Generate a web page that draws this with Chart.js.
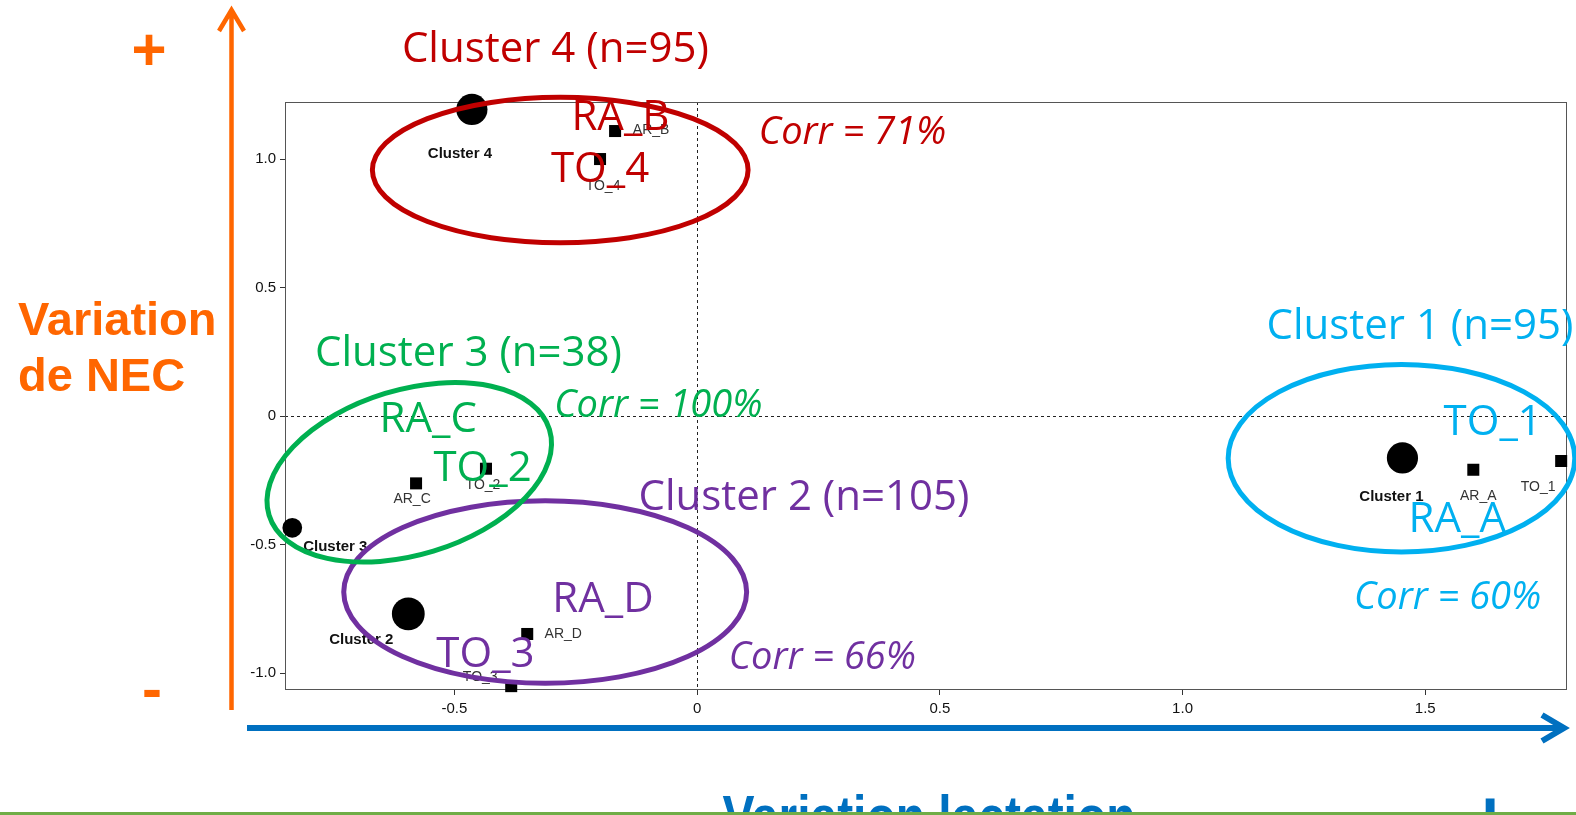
<!DOCTYPE html>
<html>
<head>
<meta charset="utf-8">
<script src="https://cdn.jsdelivr.net/npm/chart.js@4.4.1/dist/chart.umd.min.js"></script>
<style>
  html, body { margin: 0; padding: 0; background: #fff; overflow: hidden; }
  #wrap { position: relative; width: 1576px; height: 815px; }
</style>
</head>
<body>
<div id="wrap"><canvas id="myChart"></canvas></div>
<script>
// --- data ---
const clusterNames = ['Cluster 1', 'Cluster 2', 'Cluster 3', 'Cluster 4'];
const clusterX = [1.453, -0.595, -0.834, -0.464];
const clusterY = [-0.163, -0.770, -0.435, 1.193];
const clusterN = [95, 105, 38, 95];
const clusterCorr = [60, 66, 100, 71];

const variableNames = ['AR_A', 'TO_1', 'AR_D', 'TO_3', 'AR_C', 'TO_2', 'AR_B', 'TO_4'];
const variableX = [1.599, 1.780, -0.350, -0.383, -0.579, -0.435, -0.169, -0.200];
const variableY = [-0.209, -0.175, -0.848, -1.051, -0.262, -0.205, 1.109, 1.000];
const variableCluster = [0, 0, 1, 1, 2, 2, 3, 3];
const variableRenamed = ['RA_A', 'TO_1', 'RA_D', 'TO_3', 'RA_C', 'TO_2', 'RA_B', 'TO_4'];

const xTickValues = [-0.5, 0, 0.5, 1.0, 1.5];
const yTickValues = [-1.0, -0.5, 0, 0.5, 1.0];

// --- layout / style (kept apart from the data) ---
const clusterColors = ['#00B0F0', '#7030A0', '#00B050', '#C00000'];
// small black labels, pixel offset from the mark
const clusterLabelOffset = [[-11, 39], [-47, 26], [43, 19], [-12, 44]];
const variableLabelOffset = [[5, 26], [-23, 26], [36, 0], [-31, -9], [-4, 16], [-3, 16], [36, -1], [3, 27]];
// hand-drawn ellipses, in data units (rot in degrees on screen)
const ellipses = [
  {cx: 1.451, cy: -0.164, rx: 0.357, ry: 0.365, rot: 0},
  {cx: -0.313, cy: -0.685, rx: 0.415, ry: 0.355, rot: 0},
  {cx: -0.593, cy: -0.219, rx: 0.302, ry: 0.321, rot: -17},
  {cx: -0.282, cy: 0.957, rx: 0.387, ry: 0.283, rot: 0}
];
// coloured annotation positions, data units
const titlePos = [[1.489, 0.345], [0.220, -0.318], [-0.471, 0.240], [-0.292, 1.426]];
const corrPos = [[1.546, -0.709], [0.258, -0.943], [-0.080, 0.037], [0.320, 1.099]];
const renamedPos = [[1.566, -0.404], [1.639, -0.029], [-0.194, -0.716], [-0.436, -0.931],
                    [-0.554, -0.017], [-0.442, -0.205], [-0.158, 1.161], [-0.200, 0.958]];

const ANN_FONT = '"Open Sans", "Noto Sans", sans-serif';
const R_FONT = '"Liberation Sans", Arial, sans-serif';

const px = (chart, v) => chart.scales.x.getPixelForValue(v);
const py = (chart, v) => chart.scales.y.getPixelForValue(v);

const frame = {
  id: 'frame',
  beforeDatasetsDraw(chart) {
    const {ctx, chartArea: a} = chart;
    const x0 = Math.round(px(chart, 0)) + 0.5, y0 = Math.round(py(chart, 0)) + 0.5;
    ctx.save();
    ctx.strokeStyle = '#222';
    ctx.lineWidth = 1;
    ctx.setLineDash([3, 3]);
    ctx.beginPath();
    ctx.moveTo(x0, a.top); ctx.lineTo(x0, a.bottom);
    ctx.moveTo(a.left, y0); ctx.lineTo(a.right, y0);
    ctx.stroke();
    ctx.setLineDash([]);
    ctx.strokeStyle = '#555';
    ctx.strokeRect(a.left + 0.5, a.top + 0.5, a.right - a.left - 1, a.bottom - a.top - 1);
    ctx.restore();
  }
};

const annotations = {
  id: 'annotations',
  afterDatasetsDraw(chart) {
    const ctx = chart.ctx;
    ctx.save();
    ctx.textAlign = 'center';
    ctx.textBaseline = 'middle';
    // small labels next to the marks
    ctx.fillStyle = '#111';
    ctx.font = 'bold 15px ' + R_FONT;
    chart.getDatasetMeta(0).data.forEach((pt, i) => {
      ctx.fillText(clusterNames[i], pt.x + clusterLabelOffset[i][0], pt.y + clusterLabelOffset[i][1]);
    });
    ctx.fillStyle = '#333';
    ctx.font = '14px ' + R_FONT;
    chart.getDatasetMeta(1).data.forEach((pt, i) => {
      ctx.fillText(variableNames[i], pt.x + variableLabelOffset[i][0], pt.y + variableLabelOffset[i][1]);
    });
    // ellipses
    ctx.lineWidth = 5;
    ellipses.forEach((e, i) => {
      const cx = px(chart, e.cx), cy = py(chart, e.cy);
      const rx = Math.abs(px(chart, e.cx + e.rx) - cx);
      const ry = Math.abs(py(chart, e.cy + e.ry) - cy);
      ctx.strokeStyle = clusterColors[i];
      ctx.beginPath();
      ctx.ellipse(cx, cy, rx, ry, e.rot * Math.PI / 180, 0, 2 * Math.PI);
      ctx.stroke();
    });
    // coloured texts
    clusterNames.forEach((name, i) => {
      ctx.fillStyle = clusterColors[i];
      ctx.font = '42px ' + ANN_FONT;
      ctx.fillText(name + ' (n=' + clusterN[i] + ')', px(chart, titlePos[i][0]), py(chart, titlePos[i][1]));
      ctx.font = 'italic 38px ' + ANN_FONT;
      ctx.fillText('Corr = ' + clusterCorr[i] + '%', px(chart, corrPos[i][0]), py(chart, corrPos[i][1]));
    });
    ctx.font = '42px ' + ANN_FONT;
    variableRenamed.forEach((name, i) => {
      ctx.fillStyle = clusterColors[variableCluster[i]];
      ctx.fillText(name, px(chart, renamedPos[i][0]), py(chart, renamedPos[i][1]));
    });
    ctx.restore();
  }
};

const slide = {
  id: 'slide',
  beforeDraw(chart) {
    const ctx = chart.ctx;
    ctx.save();
    ctx.fillStyle = '#fff';
    ctx.fillRect(0, 0, chart.width, chart.height);
    ctx.restore();
  },
  afterDraw(chart) {
    const ctx = chart.ctx;
    ctx.save();
    // orange vertical arrow
    ctx.strokeStyle = '#FF6600';
    ctx.lineWidth = 4.5;
    ctx.beginPath();
    ctx.moveTo(231.5, 12); ctx.lineTo(231.5, 710);
    ctx.moveTo(219, 31); ctx.lineTo(231.5, 10); ctx.lineTo(244, 31);
    ctx.stroke();
    // blue horizontal arrow
    ctx.strokeStyle = '#0070C0';
    ctx.lineWidth = 6;
    ctx.beginPath();
    ctx.moveTo(247, 728); ctx.lineTo(1562, 728);
    ctx.moveTo(1542, 715); ctx.lineTo(1564, 728); ctx.lineTo(1542, 741);
    ctx.stroke();
    // orange axis title
    ctx.fillStyle = '#FF6600';
    ctx.font = 'bold 47px ' + R_FONT;
    ctx.textAlign = 'left';
    ctx.textBaseline = 'alphabetic';
    ctx.fillText('Variation', 18, 335);
    ctx.fillText('de NEC', 18, 391);
    ctx.textAlign = 'center';
    ctx.textBaseline = 'middle';
    ctx.font = 'bold 60px ' + R_FONT;
    ctx.fillText('+', 149, 53);
    ctx.fillText('-', 152, 692);
    // blue axis title, cut by the slide edge
    ctx.fillStyle = '#0070C0';
    ctx.font = 'bold 58px ' + R_FONT;
    ctx.textBaseline = 'alphabetic';
    const t = 'Variation lactation';
    const k = 413 / ctx.measureText(t).width;
    ctx.save();
    ctx.translate(929, 836);
    ctx.scale(k, 1);
    ctx.fillText(t, 0, 0);
    ctx.restore();
    ctx.font = 'bold 80px ' + R_FONT;
    ctx.fillText('+', 1490, 845);
    // green rule at the bottom
    ctx.fillStyle = '#70AD47';
    ctx.fillRect(0, 812, chart.width, 3);
    ctx.restore();
  }
};

const fmt = v => (v === 0 ? '0' : Number(v).toFixed(1));
const noPad = s => { s.paddingLeft = 0; s.paddingRight = 0; s.paddingTop = 0; s.paddingBottom = 0; };

new Chart(document.getElementById('myChart'), {
  type: 'scatter',
  data: {
    datasets: [
      {
        label: 'Clusters',
        data: clusterX.map((x, i) => ({x: x, y: clusterY[i]})),
        pointStyle: 'circle',
        pointRadius: clusterN.map(n => 1.6 * Math.sqrt(n)),
        backgroundColor: '#000',
        borderWidth: 0,
        clip: false
      },
      {
        label: 'Variables',
        data: variableX.map((x, i) => ({x: x, y: variableY[i]})),
        pointStyle: 'rect',
        pointRadius: 8.5,
        backgroundColor: '#000',
        borderWidth: 0,
        clip: false
      }
    ]
  },
  options: {
    responsive: true,
    maintainAspectRatio: false,
    devicePixelRatio: 1,
    animation: false,
    events: [],
    layout: {autoPadding: false, padding: {top: 102, right: 9, bottom: 0, left: 0}},
    plugins: {legend: {display: false}, tooltip: {enabled: false}},
    scales: {
      x: {
        type: 'linear',
        min: -0.849,
        max: 1.792,
        afterBuildTicks: s => { s.ticks = xTickValues.map(v => ({value: v})); },
        afterFit: s => { s.height = 125; noPad(s); },
        border: {display: false},
        grid: {drawOnChartArea: false, color: '#333', tickLength: 5},
        ticks: {callback: fmt, color: '#111', padding: 5, maxRotation: 0, font: {family: R_FONT, size: 15}}
      },
      y: {
        type: 'linear',
        min: -1.066,
        max: 1.222,
        afterBuildTicks: s => { s.ticks = yTickValues.map(v => ({value: v})); },
        afterFit: s => { s.width = 285; noPad(s); },
        border: {display: false},
        grid: {drawOnChartArea: false, color: '#333', tickLength: 5},
        ticks: {callback: fmt, color: '#111', padding: 4, font: {family: R_FONT, size: 15}}
      }
    }
  },
  plugins: [frame, annotations, slide]
});
</script>
</body>
</html>
